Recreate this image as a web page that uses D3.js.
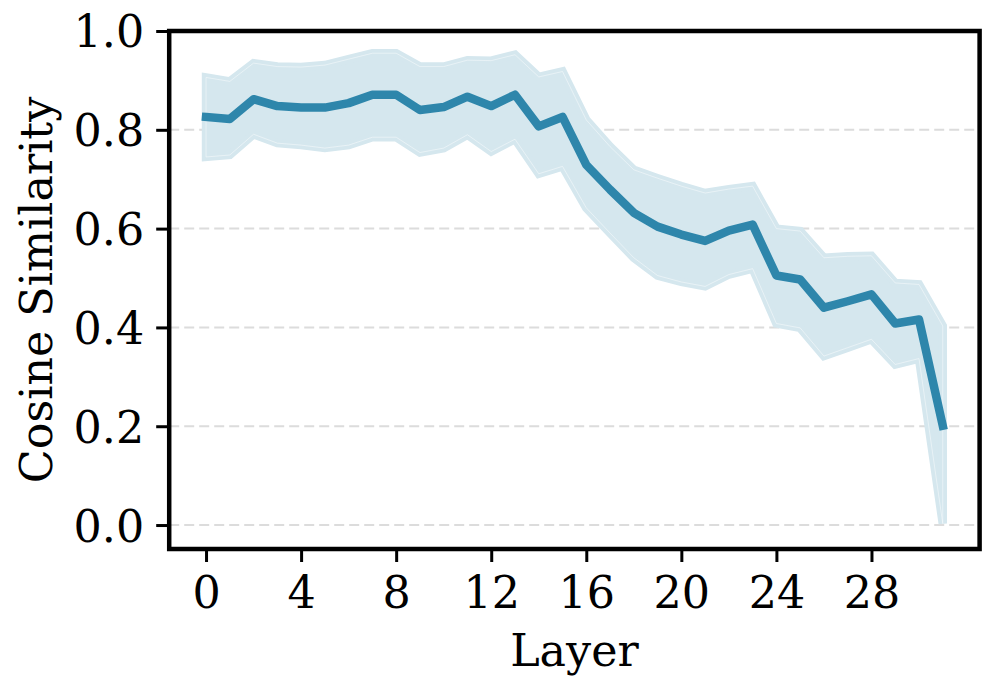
<!DOCTYPE html>
<html>
<head>
<meta charset="utf-8">
<script src="https://cdn.jsdelivr.net/npm/d3@7"></script>
<style>
  html, body { margin: 0; padding: 0; background: #ffffff; }
  svg { display: block; }
  text { font-family: "DejaVu Serif", serif; fill: #000; }
</style>
</head>
<body>
<svg id="chart" width="997" height="692"></svg>
<script>
// ---- data ----
const layers = [0,1,2,3,4,5,6,7,8,9,10,11,12,13,14,15,16,17,18,19,20,21,22,23,24,25,26,27,28,29,30,31];
const meanSim = [0.826,0.822,0.862,0.848,0.845,0.845,0.854,0.871,0.871,0.840,0.846,0.867,0.848,0.871,0.807,0.826,
                 0.729,0.679,0.632,0.604,0.588,0.575,0.596,0.608,0.505,0.497,0.440,0.453,0.467,0.408,0.416,0.201];
const upperSim = [0.906,0.898,0.935,0.928,0.927,0.931,0.943,0.955,0.955,0.928,0.928,0.941,0.940,0.952,0.907,0.918,
                  0.820,0.766,0.719,0.702,0.686,0.672,0.680,0.686,0.600,0.595,0.541,0.544,0.545,0.490,0.487,0.403];
const lowerSim = [0.745,0.749,0.791,0.773,0.769,0.763,0.769,0.785,0.785,0.754,0.763,0.790,0.756,0.781,0.711,0.726,
                  0.642,0.591,0.541,0.505,0.492,0.483,0.507,0.519,0.408,0.399,0.342,0.359,0.376,0.325,0.337,0.003];
const xTicks = [0,4,8,12,16,20,24,28];
const yTicks = [0.0,0.2,0.4,0.6,0.8,1.0];
const xLabel = "Layer";
const yLabel = "Cosine Similarity";

// ---- layout ----
const svg = d3.select("#chart");
const pL = 169.2, pR = 979.6, pT = 31, pB = 549;
const fontSize = 44.4;

const x = d3.scaleLinear().domain([-1.55, 32.55]).range([pL, pR]);
const y = d3.scaleLinear().domain([-0.0485, 1.0]).range([pB, pT]);

const data = layers.map((l, i) => ({l, m: meanSim[i], lo: lowerSim[i], hi: upperSim[i]}));

// grid
svg.append("g").selectAll("line").data(yTicks.filter(t => t < 1)).join("line")
  .attr("x1", pL).attr("x2", pR)
  .attr("y1", d => y(d)).attr("y2", d => y(d))
  .attr("stroke", "#dcdcdc").attr("stroke-width", 2)
  .attr("stroke-dasharray", "10,5");

// band
const area = d3.area().x(d => x(d.l)).y0(d => y(d.lo)).y1(d => y(d.hi));
svg.append("path").datum(data).attr("d", area)
  .attr("fill", "#d5e7ee").attr("stroke", "#d5e7ee")
  .attr("stroke-width", 8.5).attr("stroke-linejoin", "miter");
svg.append("path").datum(data).attr("d", area)
  .attr("fill", "none").attr("stroke", "rgba(255,255,255,0.45)")
  .attr("stroke-width", 1);

// mean line
const line = d3.line().x(d => x(d.l)).y(d => y(d.m));
svg.append("path").datum(data).attr("d", line)
  .attr("fill", "none").attr("stroke", "#2e86ab")
  .attr("stroke-width", 8.5).attr("stroke-linejoin", "round")
  .attr("stroke-linecap", "square");

// axes
const xAxis = d3.axisBottom(x).tickValues(xTicks).tickFormat(d3.format("d"))
  .tickSize(13).tickPadding(14);
const gx = svg.append("g").attr("transform", `translate(0,${pB})`).call(xAxis);
gx.select(".domain").remove();
gx.selectAll(".tick line").attr("stroke", "#000").attr("stroke-width", 3);
gx.selectAll(".tick text").attr("font-size", fontSize).attr("font-family", "DejaVu Serif")
  .attr("fill", "#000").attr("dy", "0.71em");

const yAxis = d3.axisLeft(y).tickValues(yTicks).tickFormat(d3.format(".1f"))
  .tickSize(13).tickPadding(12);
const gy = svg.append("g").attr("transform", `translate(${pL},0)`).call(yAxis);
gy.select(".domain").remove();
gy.selectAll(".tick line").attr("stroke", "#000").attr("stroke-width", 3);
gy.selectAll(".tick text").attr("font-size", fontSize).attr("font-family", "DejaVu Serif")
  .attr("fill", "#000").attr("dy", "0.36em");

// frame
svg.append("rect").attr("x", pL).attr("y", pT)
  .attr("width", pR - pL).attr("height", pB - pT)
  .attr("fill", "none").attr("stroke", "#000").attr("stroke-width", 4.5);

// labels
svg.append("text").attr("x", (pL + pR) / 2).attr("y", 666)
  .attr("text-anchor", "middle").attr("font-size", fontSize).text(xLabel);
svg.append("text").attr("transform", `translate(52,${(pT + pB) / 2}) rotate(-90)`)
  .attr("text-anchor", "middle").attr("font-size", fontSize).text(yLabel);
</script>
</body>
</html>
